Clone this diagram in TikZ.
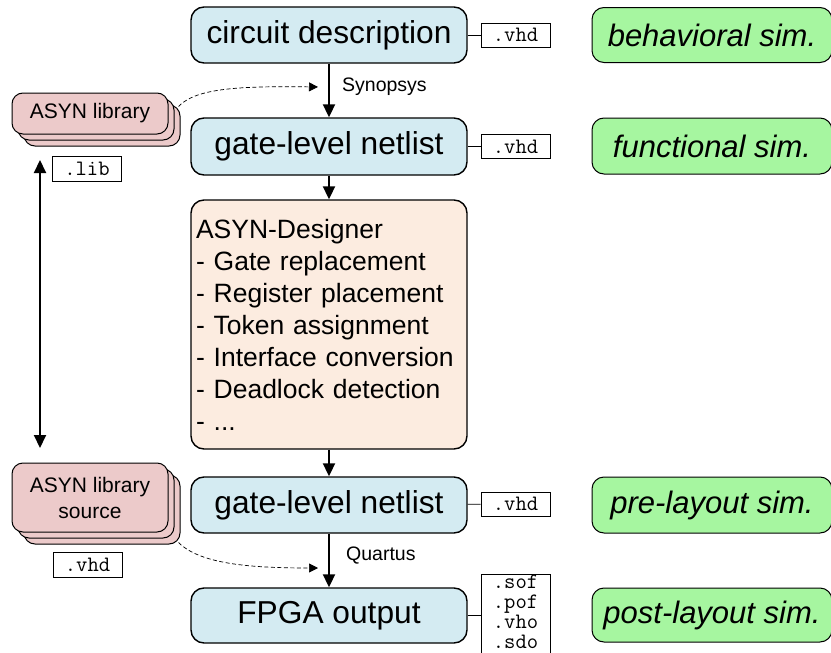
\documentclass[tikz,border=0pt]{standalone}
\usepackage{fontspec}
\setmainfont{Liberation Sans}
\usetikzlibrary{arrows.meta}
\definecolor{stageblue}{RGB}{212,235,242}
\definecolor{toolpeach}{RGB}{252,236,224}
\definecolor{libpink}{RGB}{236,202,202}
\definecolor{simgreen}{RGB}{166,246,160}
\tikzset{
  stage/.style={draw, line width=1.4pt, rounded corners=13pt, fill=stageblue,
    minimum width=276pt, inner sep=0pt, font=\fontsize{31.7}{36}\selectfont},
  tool/.style={draw, line width=1.4pt, rounded corners=13pt, fill=toolpeach,
    minimum width=276pt, minimum height=249pt, inner sep=5pt,
    text width=266pt, align=left, font=\fontsize{26.5}{32}\selectfont},
  sim/.style={draw, line width=1pt, rounded corners=12pt, fill=simgreen,
    minimum width=240pt, inner sep=0pt, font=\fontsize{31}{36}\selectfont\itshape},
  lib/.style={draw, line width=1pt, rounded corners=11pt, fill=libpink,
    minimum width=156pt, inner sep=0pt, align=center,
    font=\fontsize{21}{26}\selectfont},
  ext/.style={draw, line width=0.8pt, fill=white, minimum width=69pt,
    minimum height=24pt, inner sep=0pt, font=\ttfamily\fontsize{22}{21}\selectfont},
  flow/.style={line width=2pt, -{Triangle[length=13pt,width=12pt]}},
  both/.style={line width=2pt, {Triangle[length=13pt,width=12pt]}-{Triangle[length=13pt,width=12pt]}},
  libflow/.style={line width=0.7pt, dashed, dash pattern=on 4pt off 2.5pt,
    -{Triangle[length=9pt,width=9pt]}},
  tag/.style={font=\fontsize{19.5}{22}\selectfont, anchor=west, inner sep=0pt},
  link/.style={line width=0.8pt}
}
\begin{document}
\begin{tikzpicture}[x=1pt,y=-1pt]
\useasboundingbox (0,0) rectangle (831,653);
\clip (0,0) rectangle (831,653);

% design stages
\node[stage, minimum height=56pt] (desc) at (329,35) {circuit description};
\node[stage, minimum height=57pt] (gate1) at (329,146.5) {gate-level netlist};
\node[tool] (designer) at (329,324.5) {ASYN-Designer\\- Gate replacement\\- Register placement\\- Token assignment\\- Interface conversion\\- Deadlock detection\\- ...};
\node[stage, minimum height=56pt] (gate2) at (329,505) {gate-level netlist};
\node[stage, minimum height=55pt] (fpga) at (329,615.5) {FPGA output};

% file types
\node[ext] (descf) at (515.5,35) {.vhd};
\node[ext] (gate1f) at (515.5,146.5) {.vhd};
\node[ext] (gate2f) at (515.5,504) {.vhd};
\node[ext, anchor=north, minimum height=90pt] (fpgaf) at (515.5,574) {};
\node[anchor=north, inner sep=0pt, align=left,
  font=\ttfamily\fontsize{22}{20}\selectfont] (fpgafiles) at (515.5,575) {.sof\\.pof\\.vho\\.sdo};

\draw[link] (desc) -- (descf);
\draw[link] (gate1) -- (gate1f);
\draw[link] (gate2) -- (gate2f);
\draw[link] (fpga.east) -- (fpgaf.west |- fpga.east);

% simulation levels
\node[sim, minimum height=55pt] (behav) at (712,35) {behavioral sim.};
\node[sim, minimum height=56pt] (func) at (712,146) {functional sim.};
\node[sim, minimum height=56pt] (pre) at (712,505) {pre-layout sim.};
\node[sim, minimum height=54pt] (post) at (712,615) {post-layout sim.};

% cell libraries (stacked sheets)
\node[lib, minimum height=41pt] (libc) at (102,125.5) {};
\node[lib, minimum height=41pt] (libb) at (96,119.5) {};
\node[lib, minimum height=41pt] (lib) at (90,113.5) {ASYN library};
\node[ext, minimum height=25pt] (libf) at (87,168.5) {.lib};

\node[lib, minimum height=69pt] (srcc) at (102,509.5) {};
\node[lib, minimum height=69pt] (srcb) at (96,503.5) {};
\node[lib, minimum height=69pt] (src) at (90,497.5) {ASYN library\\source};
\node[ext, minimum height=25pt] (srcf) at (87.5,564.5) {.vhd};

% tool flow
\draw[flow] (desc) -- (gate1);
\draw[flow] (gate1) -- (designer);
\draw[flow] (designer) -- (gate2);
\draw[flow] (gate2) -- (fpga);
\node[tag] (synopsys) at (342,87) {Synopsys};
\node[tag] (quartus) at (346,556) {Quartus};

% library usage
\coordinate (libtop) at (40,160);
\coordinate (libbot) at (40,448);
\draw[both] (libtop) -- (libbot);

\coordinate (synin) at (318,87);
\coordinate (quin) at (318,568);
\draw[libflow] (libc.north east) ++(-2,2) .. controls (196,88) and (240,86) .. (synin);
\draw[libflow] (srcc.south east) ++(-2,-2) .. controls (200,564) and (250,568) .. (quin);
\end{tikzpicture}
\end{document}
